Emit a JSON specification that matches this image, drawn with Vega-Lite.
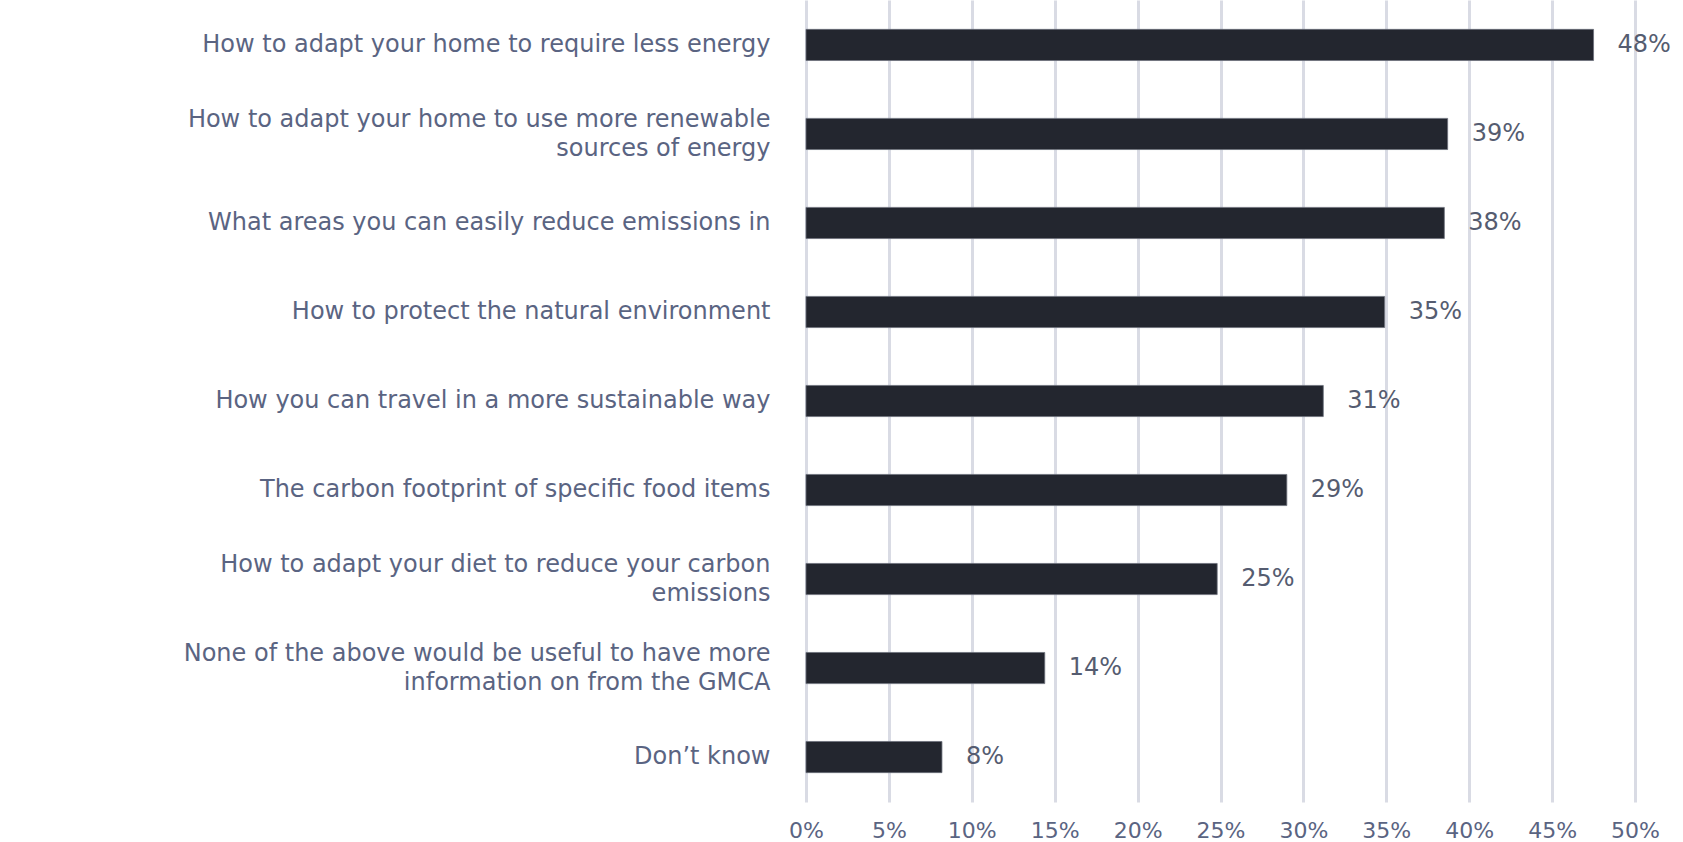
{
  "$schema": "https://vega.github.io/schema/vega-lite/v6.json",
  "autosize": "none",
  "width": 829,
  "height": 802,
  "padding": {"left": 806, "top": 0, "right": 48, "bottom": 40},
  "background": "white",
  "config": {"view": {"stroke": null}, "font": "DejaVu Sans"},
  "data": {"values": [
    {"item": "How to adapt your home to require less energy", "value": 47.5, "label": "48%"},
    {"item": "How to adapt your home to use more renewable|sources of energy", "value": 38.7, "label": "39%"},
    {"item": "What areas you can easily reduce emissions in", "value": 38.5, "label": "38%"},
    {"item": "How to protect the natural environment", "value": 34.9, "label": "35%"},
    {"item": "How you can travel in a more sustainable way", "value": 31.2, "label": "31%"},
    {"item": "The carbon footprint of specific food items", "value": 29.0, "label": "29%"},
    {"item": "How to adapt your diet to reduce your carbon|emissions", "value": 24.8, "label": "25%"},
    {"item": "None of the above would be useful to have more|information on from the GMCA", "value": 14.4, "label": "14%"},
    {"item": "Don’t know", "value": 8.2, "label": "8%"}
  ]},
  "encoding": {
    "y": {
      "field": "item", "type": "nominal", "sort": null,
      "scale": {"paddingInner": 0.65, "paddingOuter": 0.33},
      "axis": {
        "title": null, "domain": false, "ticks": false,
        "labelExpr": "split(datum.label, '|')",
        "labelOffset": {"condition": {"test": "indexof(datum.value, '|') >= 0", "value": -14}, "value": 0},
        "labelFontSize": 24, "labelColor": "#5a6482", "labelPadding": 36,
        "labelLimit": 900, "labelLineHeight": 29, "labelFont": "DejaVu Sans"
      }
    },
    "x": {
      "field": "value", "type": "quantitative",
      "scale": {"domain": [0, 50], "nice": false},
      "axis": {
        "title": null, "domain": false, "ticks": false, "grid": true,
        "gridColor": "#d9dbe4", "gridWidth": 3,
        "values": [0, 5, 10, 15, 20, 25, 30, 35, 40, 45, 50],
        "labelExpr": "datum.value + '%'",
        "labelFlush": false, "labelOverlap": false,
        "labelFontSize": 22, "labelColor": "#5a6482", "labelPadding": 18,
        "labelFont": "DejaVu Sans"
      }
    }
  },
  "layer": [
    {"mark": {"type": "bar", "color": "#23262f", "stroke": "#6b6f7a", "strokeWidth": 0.8}},
    {
      "mark": {"type": "text", "align": "left", "dx": 24, "fontSize": 24, "color": "#555c70", "font": "DejaVu Sans"},
      "encoding": {"text": {"field": "label"}}
    }
  ]
}
